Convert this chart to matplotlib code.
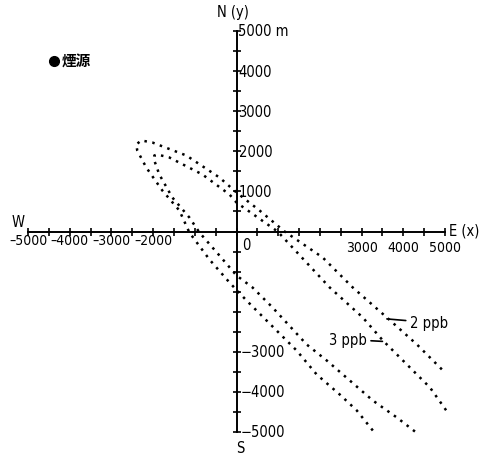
import matplotlib
matplotlib.use('Agg')
import matplotlib.pyplot as plt
import matplotlib.ticker as ticker
from matplotlib import font_manager

# Plume contours (m)
outer_x = [3269, 2885, 2476, 1923, 1442, 721, 240, -168, -649, -1130, -1370, -1779,
           -2164, -2380, -2404, -2284, -2019, -1202, -409, 0, 553, 1154, 2067, 2789,
           3606, 4327, 4976]
outer_y = [-4963, -4464, -4065, -3566, -2968, -2220, -1721, -1272, -698, -25, 524, 1023,
           1596, 2020, 2170, 2270, 2220, 1895, 1347, 973, 524, 0, -648, -1397,
           -2145, -2818, -3492]

inner_x = [4279, 3846, 3269, 2717, 2164, 1683, 865, 385, 0, -409, -889, -1130, -1539,
           -1851, -1971, -1971, -1899, -1611, -817, -168, 0, 986, 2236, 3029, 3510,
           4087, 4640, 5048]
inner_y = [-4988, -4639, -4215, -3716, -3217, -2818, -1895, -1397, -1097, -599, -25, 349,
           848, 1422, 1771, 1895, 1920, 1846, 1422, 923, 723, 0, -1397, -2145, -2718,
           -3317, -3891, -4489]

source_x, source_y = -4375, 4250
source_label = '煙源'

x_left_labels = [-5000, -4000, -3000, -2000]
x_right_labels = [3000, 4000, 5000]
y_pos_labels = [5000, 4000, 3000, 2000, 1000]
y_neg_labels = [-3000, -4000, -5000]


def find_narrow_font():
    for f in font_manager.fontManager.ttflist:
        name = f.fname.lower()
        if ('narrow' in name or 'condensed' in name) and 'sans' in name \
                and 'mono' not in name and 'bold' not in name \
                and 'italic' not in name and 'oblique' not in name:
            return f.fname
    return None


narrow_path = find_narrow_font()
if narrow_path:
    def nfont(size):
        return font_manager.FontProperties(fname=narrow_path, size=size)
else:
    def nfont(size):
        return font_manager.FontProperties(family='Liberation Sans', size=size * 0.85)

cjk_font = ['Noto Sans CJK JP', 'DejaVu Sans']


def fmt(v, dash='\u2013'):
    # the scan uses a plain dash for negative numbers
    return str(v).replace('-', dash)


fig = plt.figure(figsize=(4.83, 4.56), dpi=100)
ax = fig.add_axes([28 / 483, 1 - 433 / 456, 417 / 483, 401 / 456])
ax.set_xlim(-5000, 5000)
ax.set_ylim(-5000, 5000)

# Cross-shaped axes through the origin
for side in ['top', 'right']:
    ax.spines[side].set_visible(False)
for side in ['left', 'bottom']:
    ax.spines[side].set_position(('data', 0))
    ax.spines[side].set_linewidth(1.4)

ax.xaxis.set_major_locator(ticker.MultipleLocator(500))
ax.yaxis.set_major_locator(ticker.MultipleLocator(500))
ax.tick_params(axis='both', which='major', direction='inout', length=6, width=1.2,
               labelbottom=False, labelleft=False)

# Contour lines
ax.plot(outer_x, outer_y, color='black', linewidth=1.8, linestyle=(0, (1, 2.2)), clip_on=False)
ax.plot(inner_x, inner_y, color='black', linewidth=1.8, linestyle=(0, (1, 2.2)), clip_on=False)

# Source
ax.plot(source_x, source_y, 'o', color='black', markersize=7, clip_on=False)
ax.annotate(source_label, xy=(source_x, source_y), xytext=(8, 0), textcoords='offset pixels',
            ha='left', va='center', fontsize=10.5, fontweight='bold', family=cjk_font)

# Tick labels
for v in x_left_labels:
    ax.annotate(fmt(v), xy=(v, 0), xytext=(0, -2), textcoords='offset pixels',
                ha='center', va='top', fontproperties=nfont(10))
for v in x_right_labels:
    ax.annotate(fmt(v), xy=(v, 0), xytext=(0, -9), textcoords='offset pixels',
                ha='center', va='top', fontproperties=nfont(10))
ax.annotate('0', xy=(0, 0), xytext=(6, -6), textcoords='offset pixels',
            ha='left', va='top', fontproperties=nfont(10.5))
for v in y_pos_labels:
    txt = fmt(v) + (' m' if v == 5000 else '')
    ax.annotate(txt, xy=(0, v), xytext=(2, 0), textcoords='offset pixels',
                ha='left', va='center', fontproperties=nfont(10.5))
for v in y_neg_labels:
    ax.annotate(fmt(v, '\u2212'), xy=(0, v), xytext=(4, 0), textcoords='offset pixels',
                ha='left', va='center', fontproperties=nfont(10.5))

# Compass directions
ax.annotate('N (y)', xy=(0, 5000), xytext=(-4, 12), textcoords='offset pixels',
            ha='center', va='bottom', fontproperties=nfont(10.5))
ax.annotate('S', xy=(0, -5000), xytext=(4, -8), textcoords='offset pixels',
            ha='center', va='top', fontproperties=nfont(10.5))
ax.annotate('W', xy=(-5000, 0), xytext=(-10, 2), textcoords='offset pixels',
            ha='center', va='bottom', fontproperties=nfont(10.5))
ax.annotate('E (x)', xy=(5000, 0), xytext=(4, 1), textcoords='offset pixels',
            ha='left', va='center', fontproperties=nfont(10.5))

# Contour labels with leader lines
ax.annotate('2 ppb', xy=(3606, -2180), xytext=(4159, -2270), textcoords='data',
            ha='left', va='center', fontproperties=nfont(10.5),
            arrowprops=dict(arrowstyle='-', color='black', linewidth=1.2,
                            shrinkA=1, shrinkB=0))
ax.annotate('3 ppb', xy=(3500, -2740), xytext=(3125, -2694), textcoords='data',
            ha='right', va='center', fontproperties=nfont(10.5),
            arrowprops=dict(arrowstyle='-', color='black', linewidth=1.2,
                            shrinkA=1, shrinkB=0))

fig.savefig('out.png', dpi=100)
